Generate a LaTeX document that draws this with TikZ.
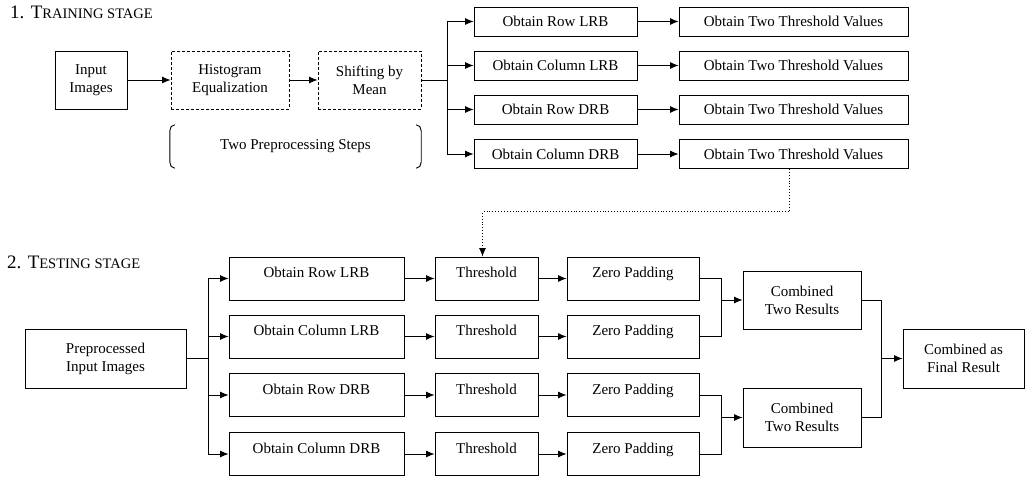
\documentclass[tikz,border=0pt]{standalone}
\usepackage{fontspec}
\setmainfont{Liberation Serif}
\usetikzlibrary{arrows.meta}
\begin{document}
\begin{tikzpicture}[x=1pt,y=-1pt,
  box/.style={draw, line width=0.9pt, inner sep=0pt, font=\fontsize{15}{18}\selectfont, align=center},
  dbox/.style={box, dash pattern=on 3pt off 2pt},
  up/.style={text depth=12pt},
  arr/.style={line width=0.9pt, -{Latex[length=8.5pt,width=7pt]}},
  ln/.style={line width=0.9pt},
  dotarr/.style={line width=0.9pt, dotted, -{Latex[length=8.5pt,width=7pt]}},
  ttl/.style={anchor=west, inner sep=0pt},
  rbox/.style={box, minimum width=163pt, minimum height=29pt},
  tvbox/.style={box, minimum width=229pt, minimum height=29pt},
  obbox/.style={box, up, minimum width=175pt, minimum height=43pt},
  thbox/.style={box, up, minimum width=103pt, minimum height=43pt},
  zpbox/.style={box, up, minimum width=132pt, minimum height=43pt}]
\useasboundingbox (0,0) rectangle (1026,478);

% ---------- Training stage ----------
\node[ttl] (t1) at (10,12) {\fontsize{19}{21}\selectfont 1. T\fontsize{14.5}{16}\selectfont RAINING STAGE};

\node[box, minimum width=72pt, minimum height=58pt] (inp) at (91,80) {Input\\Images};
\node[dbox, minimum width=118pt, minimum height=58pt] (he) at (230,80) {Histogram\\Equalization};
\node[dbox, minimum width=103pt, minimum height=58pt] (sm) at (369.5,80) {Shifting by\\Mean};

\node[inner sep=0pt, minimum width=251pt, minimum height=43pt, font=\fontsize{15}{18}\selectfont] (pp) at (295.5,146.5) {Two Preprocessing Steps};
\draw[ln] ([xshift=5pt]pp.north west) to[out=180,in=90] ([yshift=-6pt]pp.north west)
  -- ([yshift=6pt]pp.south west) to[out=-90,in=180] ([xshift=5pt]pp.south west);
\draw[ln] ([xshift=-5pt]pp.north east) to[out=0,in=90] ([yshift=-6pt]pp.north east)
  -- ([yshift=6pt]pp.south east) to[out=-90,in=0] ([xshift=-5pt]pp.south east);

\node[rbox] (r1) at (555.5,21.5) {Obtain Row LRB};
\node[rbox] (r2) at (555.5,65.5) {Obtain Column LRB};
\node[rbox] (r3) at (555.5,109.5) {Obtain Row DRB};
\node[rbox] (r4) at (555.5,154) {Obtain Column DRB};
\foreach \i/\y in {1/21.5,2/65.5,3/109.5,4/154}
  \node[tvbox] (tv\i) at (793.5,\y) {Obtain Two Threshold Values};

\draw[arr] (inp) -- (he);
\draw[arr] (he) -- (sm);
\coordinate (s1) at (447,80);
\draw[ln] (sm.east) -- (s1);
\foreach \i in {1,...,4} {
  \draw[arr] (s1) |- (r\i.west);
  \draw[arr] (r\i) -- (tv\i);
}

% ---------- Testing stage ----------
\node[ttl] (t2) at (7,262) {\fontsize{19}{21}\selectfont 2. T\fontsize{14.5}{16}\selectfont ESTING STAGE};

\node[box, minimum width=161pt, minimum height=59pt] (pin) at (105.5,358.5) {Preprocessed\\Input Images};

\node[obbox] (ob1) at (316.5,278.5) {Obtain Row LRB};
\node[obbox] (ob2) at (316.5,336.5) {Obtain Column LRB};
\node[obbox] (ob3) at (316.5,395) {Obtain Row DRB};
\node[obbox] (ob4) at (316.5,454) {Obtain Column DRB};
\foreach \i/\y in {1/278.5,2/336.5,3/395,4/454} {
  \node[thbox] (th\i) at (486.5,\y) {Threshold};
  \node[zpbox] (zp\i) at (633,\y) {Zero Padding};
}

\node[box, minimum width=118pt, minimum height=58pt] (ct1) at (802,300) {Combined\\Two Results};
\node[box, minimum width=118pt, minimum height=59pt] (ct2) at (802,417.5) {Combined\\Two Results};
\node[box, minimum width=121pt, minimum height=59pt] (fin) at (963.5,358.5) {Combined as\\Final Result};

\draw[dotarr] ([xshift=-4pt]tv4.south) -- ++(0,43) -| ([xshift=-4pt]th1.north);

\coordinate (s2) at (208,358.5);
\draw[ln] (pin.east) -- (s2);
\foreach \i in {1,...,4} {
  \draw[arr] (s2) |- (ob\i.west);
  \draw[arr] (ob\i) -- (th\i);
  \draw[arr] (th\i) -- (zp\i);
}

\coordinate (m1) at (721,300);
\coordinate (m2) at (721,417.5);
\coordinate (m3) at (881,358.5);
\draw[ln] (zp1.east) -| (m1);
\draw[ln] (zp2.east) -| (m1);
\draw[arr] (m1) -- (ct1.west);
\draw[ln] (zp3.east) -| (m2);
\draw[ln] (zp4.east) -| (m2);
\draw[arr] (m2) -- (ct2.west);
\draw[ln] (ct1.east) -| (m3);
\draw[ln] (ct2.east) -| (m3);
\draw[arr] (m3) -- (fin.west);
\end{tikzpicture}
\end{document}
